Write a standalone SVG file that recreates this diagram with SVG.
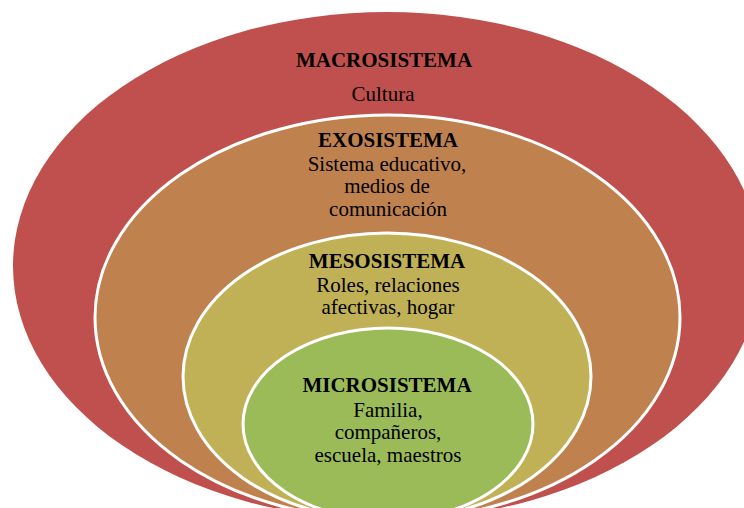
<svg xmlns="http://www.w3.org/2000/svg" width="744" height="508" viewBox="0 0 744 508">
<style>
.ring{stroke:#ffffff;stroke-width:3}
text{font-family:"Liberation Serif","Times New Roman",serif;font-size:21px;fill:#000000;text-anchor:middle}
.b{font-weight:bold}
</style>
<rect width="744" height="508" fill="#ffffff"/>
<g id="macrosistema">
<ellipse cx="387" cy="266" rx="374" ry="254" fill="#C0504D"/>
<text class="b" x="384" y="67">MACROSISTEMA</text>
<text x="383" y="101">Cultura</text>
</g>
<g id="exosistema">
<ellipse class="ring" cx="387.5" cy="317.5" rx="292.5" ry="202.5" fill="#BF824F"/>
<text class="b" x="388" y="147">EXOSISTEMA</text>
<text x="387" y="171">Sistema educativo,</text>
<text x="387" y="193">medios de</text>
<text x="388" y="216">comunicación</text>
</g>
<g id="mesosistema">
<ellipse class="ring" cx="387" cy="376.5" rx="204" ry="143.5" fill="#C0B157"/>
<text class="b" x="387" y="268">MESOSISTEMA</text>
<text x="388" y="292">Roles, relaciones</text>
<text x="388" y="314">afectivas, hogar</text>
</g>
<g id="microsistema">
<ellipse class="ring" cx="388" cy="424" rx="145" ry="96" fill="#9BBB59"/>
<text class="b" x="387" y="392">MICROSISTEMA</text>
<text x="388" y="417">Familia,</text>
<text x="388" y="439">compañeros,</text>
<text x="388" y="462">escuela, maestros</text>
</g>
</svg>
